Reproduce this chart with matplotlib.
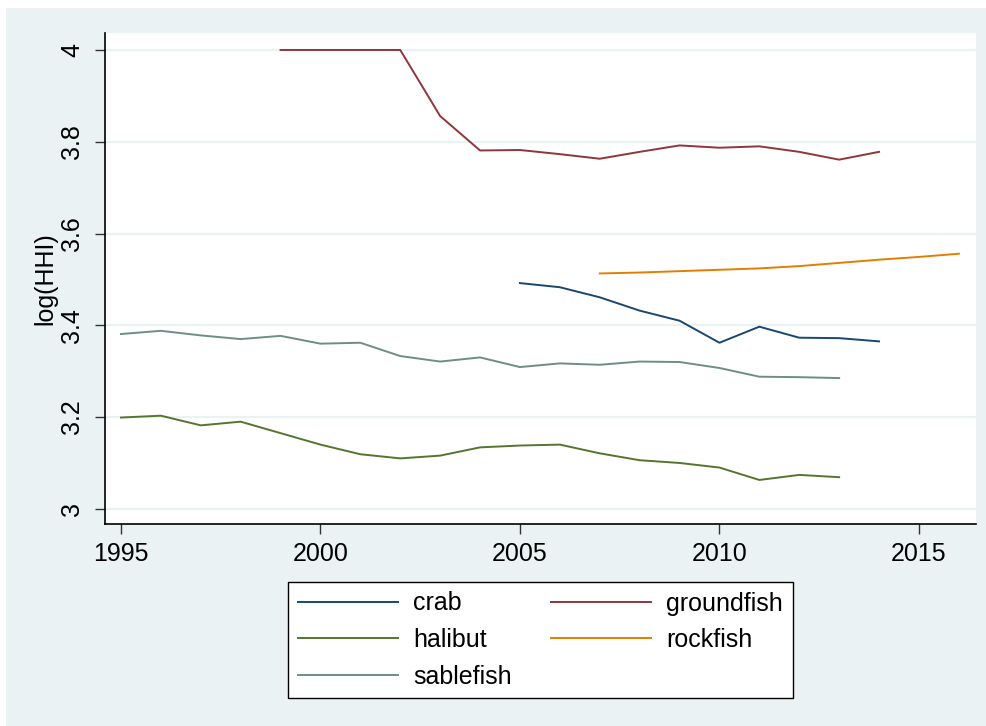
import numpy as np
import matplotlib
matplotlib.use('Agg')
import matplotlib.pyplot as plt
from matplotlib.patches import Rectangle

plt.rcParams['font.family'] = ['Liberation Sans', 'DejaVu Sans']

# log(HHI) by fishery
crab_years = np.arange(2005, 2015)
crab = [3.492, 3.483, 3.461, 3.432, 3.410, 3.362, 3.397, 3.373, 3.372, 3.365]

groundfish_years = np.arange(1999, 2015)
groundfish = [4.0, 4.0, 4.0, 4.0, 3.856, 3.781, 3.782, 3.773, 3.763, 3.778,
              3.792, 3.787, 3.790, 3.778, 3.761, 3.778]

halibut_years = np.arange(1995, 2014)
halibut = [3.199, 3.203, 3.182, 3.190, 3.165, 3.140, 3.119, 3.110, 3.116, 3.134,
           3.138, 3.140, 3.121, 3.106, 3.100, 3.090, 3.063, 3.074, 3.069]

rockfish_years = np.arange(2007, 2017)
rockfish = [3.513, 3.515, 3.518, 3.521, 3.524, 3.529, 3.536, 3.543, 3.549, 3.556]

sablefish_years = np.arange(1995, 2014)
sablefish = [3.381, 3.388, 3.378, 3.370, 3.377, 3.360, 3.362, 3.333, 3.321, 3.330,
             3.309, 3.317, 3.314, 3.321, 3.320, 3.307, 3.288, 3.287, 3.285]

xticks = [1995, 2000, 2005, 2010, 2015]
yticks = [3, 3.2, 3.4, 3.6, 3.8, 4]
ytick_labels = ['3', '3.2', '3.4', '3.6', '3.8', '4']

bg = '#EAF2F3'
fs = 18

fig = plt.figure(figsize=(9.87, 7.26), dpi=100, facecolor='white')
fig.patches.append(Rectangle((6 / 987, 0), 1, (726 - 8) / 726,
                             transform=fig.transFigure, facecolor=bg,
                             edgecolor='none', zorder=-10))

ax = fig.add_axes([105 / 987, (726 - 524) / 726, (976 - 105) / 987, (524 - 33) / 726])
ax.set_facecolor('white')

lw = 1.4
l_crab, = ax.plot(crab_years, crab, color='#1a476f', lw=lw, label='crab')
l_gf, = ax.plot(groundfish_years, groundfish, color='#90353b', lw=lw, label='groundfish')
l_hal, = ax.plot(halibut_years, halibut, color='#55752f', lw=lw, label='halibut')
l_rock, = ax.plot(rockfish_years, rockfish, color='#e37e00', lw=lw, label='rockfish')
l_sab, = ax.plot(sablefish_years, sablefish, color='#6e8e84', lw=lw, label='sablefish')

ax.set_xlim(1994.6, 2016.43)
ax.set_ylim(2.967, 4.037)
ax.set_xticks(xticks)
ax.set_yticks(yticks)
ax.set_yticklabels(ytick_labels, rotation=90, va='center')
ax.tick_params(axis='both', labelsize=fs, length=7, width=1, color='#333333', pad=6)
ax.tick_params(axis='y', pad=8)
ax.grid(axis='y', color=bg, lw=1.6)
ax.set_axisbelow(True)
for s in ['top', 'right']:
    ax.spines[s].set_visible(False)
for s in ['left', 'bottom']:
    ax.spines[s].set_linewidth(1.2)
    ax.spines[s].set_color('black')
ax.set_ylabel('log(HHI)', fontsize=fs, labelpad=2)

leg = fig.legend([l_crab, l_hal, l_sab, l_gf, l_rock],
                 ['crab', 'halibut', 'sablefish', 'groundfish', 'rockfish'],
                 ncol=2, loc='center', bbox_to_anchor=(540.5 / 987, (726 - 640) / 726),
                 fontsize=fs, frameon=True, fancybox=False, handlelength=4.0,
                 handletextpad=0.6, columnspacing=1.6, labelspacing=0.5,
                 borderpad=0.38)
leg.get_frame().set_edgecolor('black')
leg.get_frame().set_linewidth(1.0)
leg.get_frame().set_facecolor('white')
leg.get_frame().set_alpha(1)

fig.savefig('out.png', dpi=100, facecolor=fig.get_facecolor())
